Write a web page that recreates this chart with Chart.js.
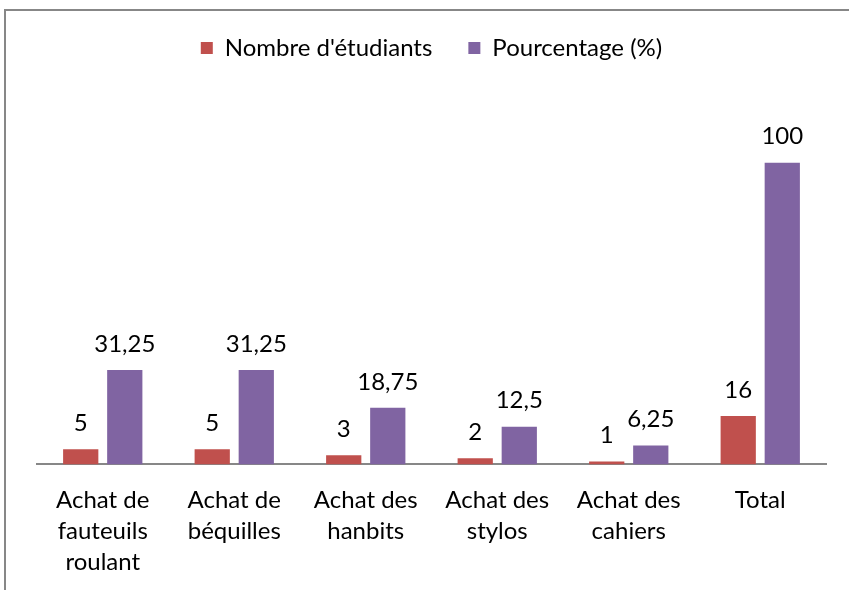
<!DOCTYPE html>
<html lang="fr">
<head>
  <meta charset="UTF-8" />
  <title>Achats</title>
  <script src="https://cdn.jsdelivr.net/npm/chart.js"></script>
  <style>
    body { margin: 0; background: #fff; overflow: hidden; }
    #frame { position: absolute; left: 4px; top: 9px; width: 900px; height: 700px; border: 2px solid #878787; }
    #wrap { position: absolute; left: 0; top: 0; width: 849px; height: 590px; }
  </style>
</head>
<body>
  <div id="frame"></div>
  <div id="wrap"><canvas id="chart"></canvas></div>
  <script>
    const categories = [
      ['Achat de', 'fauteuils', 'roulant'],
      ['Achat de', 'béquilles'],
      ['Achat des', 'hanbits'],
      ['Achat des', 'stylos'],
      ['Achat des', 'cahiers'],
      'Total'
    ];
    const etudiants = [5, 5, 3, 2, 1, 16];
    const pourcentage = [31.25, 31.25, 18.75, 12.5, 6.25, 100];

    const FONT = 'Lato, "Open Sans", sans-serif';

    // valeurs au-dessus des barres
    const valueLabels = {
      id: 'valueLabels',
      afterDatasetsDraw(chart) {
        const ctx = chart.ctx;
        ctx.save();
        ctx.font = '24px ' + FONT;
        ctx.fillStyle = '#000';
        ctx.textAlign = 'center';
        ctx.textBaseline = 'middle';
        chart.data.datasets.forEach((ds, i) => {
          chart.getDatasetMeta(i).data.forEach((bar, j) => {
            const txt = String(ds.data[j]).replace('.', ',');
            ctx.fillText(txt, bar.x, bar.y - 26);
          });
        });
        ctx.restore();
      }
    };

    new Chart(document.getElementById('chart'), {
      type: 'bar',
      data: {
        labels: categories,
        datasets: [
          { label: "Nombre d'étudiants", data: etudiants, backgroundColor: '#C0504D' },
          { label: 'Pourcentage (%)', data: pourcentage, backgroundColor: '#8064A2' }
        ]
      },
      options: {
        responsive: true,
        maintainAspectRatio: false,
        animation: false,
        categoryPercentage: 0.67,
        barPercentage: 0.8,
        layout: { padding: { left: 37, right: 23, top: 0, bottom: 0 } },
        plugins: {
          legend: {
            position: 'top',
            labels: {
              font: { size: 24, family: FONT },
              color: '#000',
              boxWidth: 12,
              boxHeight: 12,
              padding: 36
            }
          },
          tooltip: { enabled: false }
        },
        scales: {
          x: {
            grid: { display: false },
            border: { color: '#878787', width: 2 },
            ticks: {
              color: '#000',
              font: { size: 24, family: FONT, lineHeight: 1.3 },
              maxRotation: 0,
              autoSkip: false,
              padding: 12
            }
          },
          y: {
            display: false,
            min: 0,
            max: 130.7
          }
        }
      },
      plugins: [valueLabels]
    });
  </script>
</body>
</html>
